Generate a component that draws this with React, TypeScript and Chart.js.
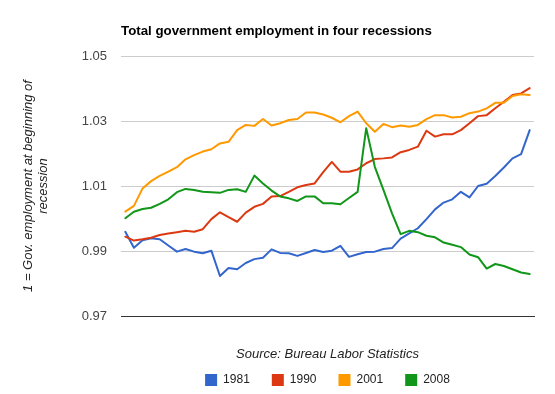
import React, { useEffect, useRef } from "react";
import { Chart, registerables } from "chart.js";

Chart.register(...registerables);

const MONTHS = [
  0, 1, 2, 3, 4, 5, 6, 7, 8, 9, 10, 11, 12, 13, 14, 15, 16, 17, 18, 19, 20, 21, 22, 23,
  24, 25, 26, 27, 28, 29, 30, 31, 32, 33, 34, 35, 36, 37, 38, 39, 40, 41, 42, 43, 44, 45, 46, 47,
];

const SERIES_NAMES = ["1981", "1990", "2001", "2008"];

const R1981 = [
  0.9959, 0.991, 0.9933, 0.9939, 0.9936, 0.9917, 0.9898, 0.9906, 0.9898, 0.9893,
  0.9901, 0.9823, 0.9848, 0.9844, 0.9863, 0.9875, 0.9879, 0.9905, 0.9894, 0.9893,
  0.9885, 0.9894, 0.9903, 0.9897, 0.9901, 0.9916, 0.9882, 0.989, 0.9897, 0.9898,
  0.9906, 0.9909, 0.9938, 0.9954, 0.997, 0.9998, 1.0028, 1.0049, 1.0059, 1.0082,
  1.0065, 1.01, 1.0107, 1.0131, 1.0157, 1.0185, 1.0198, 1.0272,
];

const R1990 = [
  0.9944, 0.9932, 0.9936, 0.9941, 0.9949, 0.9954, 0.9958, 0.9962, 0.9959, 0.9967,
  0.9998, 1.0019, 1.0004, 0.999, 1.0018, 1.0036, 1.0045, 1.0068, 1.0069, 1.0082,
  1.0096, 1.0103, 1.0108, 1.0143, 1.0174, 1.0144, 1.0144, 1.0151, 1.017, 1.0183,
  1.0185, 1.0188, 1.0204, 1.0211, 1.0221, 1.027, 1.0252, 1.0259, 1.0259, 1.0272,
  1.0293, 1.0315, 1.0318, 1.0339, 1.0359, 1.038, 1.0385, 1.0401,
];

const R2001 = [
  1.0021, 1.0039, 1.0092, 1.0115, 1.0131, 1.0144, 1.0158, 1.0182, 1.0195, 1.0206,
  1.0213, 1.0231, 1.0236, 1.0272, 1.0288, 1.0285, 1.0306, 1.0286, 1.0293, 1.0303,
  1.0306, 1.0326, 1.0326, 1.032, 1.031, 1.0296, 1.0315, 1.0329, 1.0293, 1.0267,
  1.0291, 1.0281, 1.0286, 1.0282, 1.0288, 1.0306, 1.0318, 1.0318, 1.0311, 1.0313,
  1.0324, 1.0329, 1.0339, 1.0356, 1.0356, 1.0377, 1.0382, 1.038,
];

const R2008 = [
  1.0001, 1.0021, 1.0029, 1.0033, 1.0045, 1.0059, 1.0081, 1.0091, 1.0088, 1.0082,
  1.0081, 1.0079, 1.0088, 1.009, 1.0082, 1.0132, 1.0108, 1.0086, 1.0068, 1.0062,
  1.0054, 1.0068, 1.0068, 1.0047, 1.0047, 1.0044, 1.0063, 1.0082, 1.0278, 1.0159,
  1.0088, 1.0016, 0.9952, 0.9962, 0.9958, 0.9947, 0.9942, 0.9926, 0.9919, 0.9912,
  0.9889, 0.9881, 0.9846, 0.986, 0.9854, 0.9844, 0.9834, 0.9829,
];

const Y_TICKS = [0.97, 0.99, 1.01, 1.03, 1.05];

const COLORS = ["#3366cc", "#dc3912", "#ff9900", "#109618"];
const FONT = "Arial, 'Liberation Sans', sans-serif";

export default function App() {
  const ref = useRef<HTMLCanvasElement | null>(null);

  useEffect(() => {
    if (!ref.current) return;
    const seriesData = [R1981, R1990, R2001, R2008];
    const chart = new Chart(ref.current, {
      type: "line",
      data: {
        labels: MONTHS.map(String),
        datasets: SERIES_NAMES.map((name, i) => ({
          label: name,
          data: seriesData[i],
          borderColor: COLORS[i],
          backgroundColor: COLORS[i],
          borderWidth: 2,
          pointRadius: 0,
          pointHoverRadius: 0,
          tension: 0,
          fill: false,
          borderJoinStyle: "round" as const,
          borderCapStyle: "round" as const,
          order: 3 - i,
        })),
      },
      options: {
        responsive: false,
        animation: false,
        events: [],
        layout: { padding: { left: 0, right: 21, top: 0, bottom: -2 } },
        font: { family: FONT, size: 12 },
        scales: {
          x: {
            type: "category",
            offset: true,
            grid: { display: false, drawTicks: false },
            border: { display: true, color: "#333333", width: 1 },
            ticks: { display: false },
            title: {
              display: true,
              text: "Source: Bureau Labor Statistics",
              color: "#222222",
              font: { family: FONT, size: 13, style: "italic" },
              padding: { top: 30.2, bottom: -9.8 },
            },
          },
          y: {
            min: 0.97,
            max: 1.05,
            afterBuildTicks: (scale: any) => {
              scale.ticks = Y_TICKS.map((v) => ({ value: v }));
            },
            afterFit: (scale: any) => {
              scale.width = 121;
            },
            grid: {
              drawTicks: false,
              color: (ctx: any) =>
                ctx.tick && Math.abs(ctx.tick.value - 0.97) < 1e-6 ? "#333333" : "#cccccc",
              lineWidth: 1,
            },
            border: { display: false },
            ticks: {
              padding: 14,
              color: "#444444",
              font: { family: FONT, size: 13 },
              callback: (v: any) => Number(v).toFixed(2),
            },
            title: {
              display: true,
              text: ["1 = Gov. employment at beginning of", "recession"],
              color: "#222222",
              font: { family: FONT, size: 13, style: "italic", lineHeight: 1.15 },
              padding: { top: 21, bottom: 0 },
            },
          },
        },
        plugins: {
          title: {
            display: true,
            text: "Total government employment in four recessions",
            align: "start",
            fullSize: false,
            color: "#000000",
            font: { family: FONT, size: 13.3, weight: "bold" },
            padding: { top: 23, bottom: 17.04 },
          },
          legend: {
            display: true,
            position: "bottom",
            fullSize: false,
            labels: {
              boxWidth: 12,
              boxHeight: 12,
              padding: 22,
              color: "#222222",
              font: { family: FONT, size: 12 },
              sort: (a: any, b: any) => a.datasetIndex - b.datasetIndex,
              generateLabels: (c: any) =>
                Chart.defaults.plugins.legend.labels
                  .generateLabels(c)
                  .map((l: any) => ({ ...l, lineWidth: 0, fillStyle: l.strokeStyle })),
            },
          },
          tooltip: { enabled: false },
        },
      },
    });
    return () => chart.destroy();
  }, []);

  return (
    <div style={{ position: "fixed", left: 0, top: 0, width: 555, height: 394, background: "#ffffff" }}>
      <canvas ref={ref} width={555} height={394} style={{ display: "block" }} />
    </div>
  );
}
